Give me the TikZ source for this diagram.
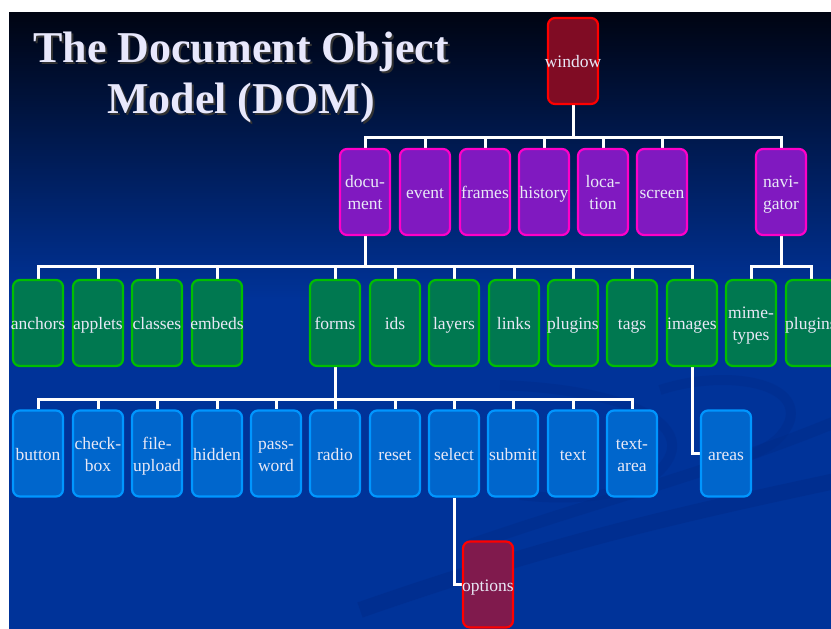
\documentclass[tikz,border=0pt]{standalone}
\usepackage{fontspec}
\setmainfont{Liberation Serif}
\definecolor{bgblue}{RGB}{0,51,153}
\definecolor{topdark}{RGB}{0,4,18}
\definecolor{swoosh}{RGB}{0,42,135}
\definecolor{txt}{RGB}{232,232,246}
\definecolor{titlecol}{RGB}{232,232,252}
\definecolor{redfill}{RGB}{128,12,36}
\definecolor{redline}{RGB}{255,0,0}
\definecolor{optfill}{RGB}{128,26,77}
\definecolor{purfill}{RGB}{128,25,192}
\definecolor{purline}{RGB}{255,0,200}
\definecolor{grnfill}{RGB}{0,120,80}
\definecolor{grnline}{RGB}{0,190,0}
\definecolor{blufill}{RGB}{0,102,204}
\definecolor{bluline}{RGB}{0,150,255}
\newcommand\boxlbl[1]{\makebox[0pt]{\raisebox{-6.9pt}[0pt][0pt]{\begin{tabular}{@{}c@{}}#1\end{tabular}}}}
\pgfdeclarelayer{slide}
\pgfdeclarelayer{wires}
\pgfsetlayers{slide,wires,main}
\begin{document}
\begin{tikzpicture}[x=1pt,y=-1pt,
  box/.style={rectangle, rounded corners=7pt, line width=2.2pt, minimum width=50pt,
    minimum height=86pt, inner sep=0pt, text=txt, font=\fontsize{17.5}{22}\selectfont},
  redbox/.style={box, draw=redline, fill=redfill},
  optbox/.style={box, draw=redline, fill=optfill},
  purbox/.style={box, draw=purline, fill=purfill},
  grnbox/.style={box, draw=grnline, fill=grnfill},
  blubox/.style={box, draw=bluline, fill=blufill},
  conn/.style={draw=white, line width=3pt},
  titletxt/.style={font=\fontsize{44}{51}\selectfont\bfseries, inner sep=0pt, anchor=base}]
\useasboundingbox (0,0) rectangle (831,629);
\clip (0,0) rectangle (831,629);
\begin{pgfonlayer}{slide}
  \fill[white] (0,0) rectangle (831,629);
  \fill[bgblue] (9,12) rectangle (831,629);
  \shade[top color=topdark, bottom color=bgblue] (9,12) rectangle (831,300);
  \draw[swoosh, line width=16pt, opacity=0.45] (360,610) .. controls (560,540) and (700,510) .. (840,480);
  \draw[swoosh, line width=12pt, opacity=0.4] (470,545) .. controls (600,500) and (720,470) .. (840,420);
  \draw[swoosh, line width=10pt, opacity=0.35] (500,385) .. controls (640,390) and (700,430) .. (660,470) .. controls (630,500) and (560,500) .. (520,495);
  \draw[swoosh, line width=10pt, opacity=0.35] (660,390) .. controls (720,370) and (800,380) .. (790,420) .. controls (780,450) and (740,460) .. (700,470);
\end{pgfonlayer}

% title
\node[titletxt, text=black!80] (t1s) at (243,64) {The Document Object};
\node[titletxt, text=black!80] (t2s) at (243,115) {Model (DOM)};
\node[titletxt, text=titlecol] (t1) at (241,62) {The Document Object};
\node[titletxt, text=titlecol] (t2) at (241,113) {Model (DOM)};

% level 1
\node[redbox] (window) at (573,61) {\boxlbl{window}};

% level 2
\node[purbox] (doc) at (365,192) {\boxlbl{docu-\\ment}};
\node[purbox] (event) at (425,192) {\boxlbl{event}};
\node[purbox] (frames) at (485,192) {\boxlbl{frames}};
\node[purbox] (history) at (544,192) {\boxlbl{history}};
\node[purbox] (location) at (603,192) {\boxlbl{loca-\\tion}};
\node[purbox] (screen) at (662,192) {\boxlbl{screen}};
\node[purbox] (navigator) at (781,192) {\boxlbl{navi-\\gator}};

% level 3
\node[grnbox] (anchors) at (38,323) {\boxlbl{anchors}};
\node[grnbox] (applets) at (98,323) {\boxlbl{applets}};
\node[grnbox] (classes) at (157,323) {\boxlbl{classes}};
\node[grnbox] (embeds) at (217,323) {\boxlbl{embeds}};
\node[grnbox] (forms) at (335,323) {\boxlbl{forms}};
\node[grnbox] (ids) at (395,323) {\boxlbl{ids}};
\node[grnbox] (layers) at (454,323) {\boxlbl{layers}};
\node[grnbox] (links) at (514,323) {\boxlbl{links}};
\node[grnbox] (plugins) at (573,323) {\boxlbl{plugins}};
\node[grnbox] (tags) at (632,323) {\boxlbl{tags}};
\node[grnbox] (images) at (692,323) {\boxlbl{images}};
\node[grnbox] (mime) at (751,323) {\boxlbl{mime-\\types}};
\node[grnbox] (navplugins) at (811,323) {\boxlbl{plugins}};

% level 4
\node[blubox] (button) at (38,453.5) {\boxlbl{button}};
\node[blubox] (checkbox) at (98,453.5) {\boxlbl{check-\\box}};
\node[blubox] (fileupload) at (157,453.5) {\boxlbl{file-\\upload}};
\node[blubox] (hidden) at (217,453.5) {\boxlbl{hidden}};
\node[blubox] (password) at (276,453.5) {\boxlbl{pass-\\word}};
\node[blubox] (radio) at (335,453.5) {\boxlbl{radio}};
\node[blubox] (reset) at (395,453.5) {\boxlbl{reset}};
\node[blubox] (select) at (454,453.5) {\boxlbl{select}};
\node[blubox] (submit) at (513,453.5) {\boxlbl{submit}};
\node[blubox] (text) at (573,453.5) {\boxlbl{text}};
\node[blubox] (textarea) at (632,453.5) {\boxlbl{text-\\area}};
\node[blubox] (areas) at (726,453.5) {\boxlbl{areas}};

% level 5
\node[optbox] (options) at (488,584.5) {\boxlbl{options}};

\begin{pgfonlayer}{wires}
  \foreach \c in {doc,event,frames,history,location,screen,navigator}
    \draw[conn] (window.south) -- ++(0,32) -| (\c.north);
  \foreach \c in {anchors,applets,classes,embeds,forms,ids,layers,links,plugins,tags,images}
    \draw[conn] (doc.south) -- ++(0,30) -| (\c.north);
  \foreach \c in {mime,navplugins}
    \draw[conn] (navigator.south) -- ++(0,30) -| (\c.north);
  \foreach \c in {button,checkbox,fileupload,hidden,password,radio,reset,select,submit,text,textarea}
    \draw[conn] (forms.south) -- ++(0,32) -| (\c.north);
  \draw[conn] (images.south) |- (areas.west);
  \draw[conn] (select.south) |- (options.west);
\end{pgfonlayer}
\end{tikzpicture}
\end{document}
